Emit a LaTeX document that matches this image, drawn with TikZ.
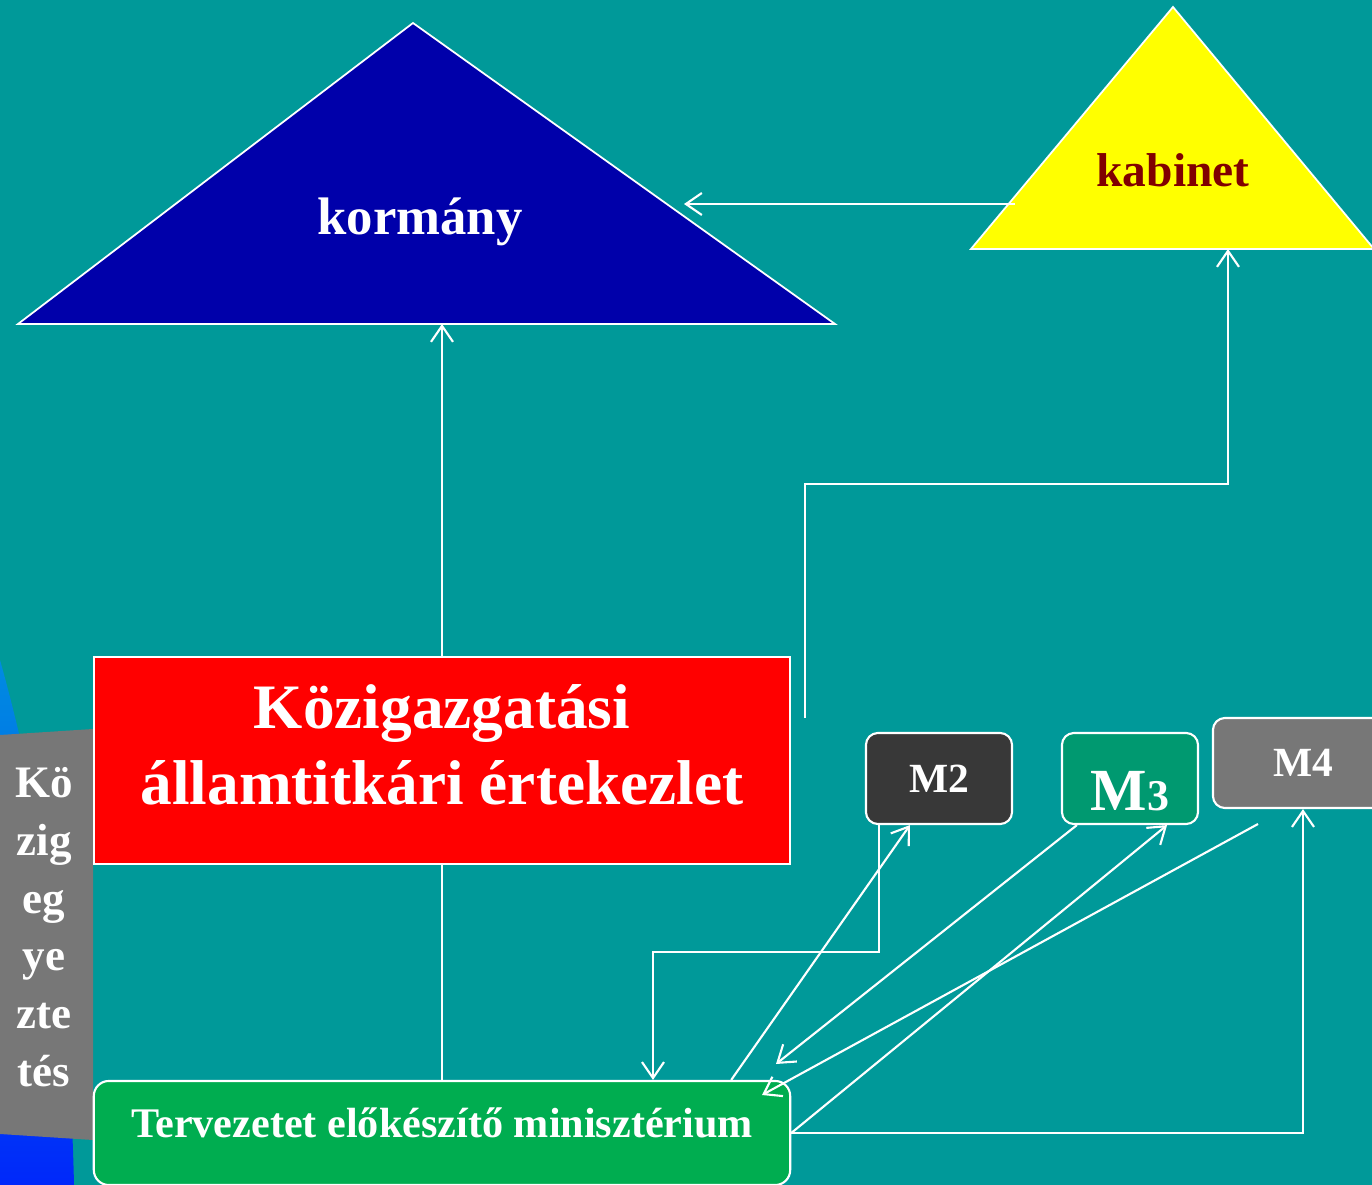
\documentclass[tikz,border=0pt]{standalone}
\usepackage{fontspec}
\setmainfont{Liberation Serif}
\usetikzlibrary{arrows.meta}
\definecolor{hatter}{RGB}{0,153,153}
\definecolor{kormkek}{RGB}{0,0,170}
\definecolor{kabsarga}{RGB}{255,255,0}
\definecolor{bordo}{RGB}{128,0,0}
\definecolor{piros}{RGB}{255,0,0}
\definecolor{zold}{RGB}{0,173,80}
\definecolor{mketto}{RGB}{56,56,56}
\definecolor{mharom}{RGB}{0,153,112}
\definecolor{szurke}{RGB}{119,119,119}
\definecolor{vilagoskek}{RGB}{0,140,225}
\definecolor{sotetkek}{RGB}{0,40,250}
\begin{document}
\begin{tikzpicture}[x=0.01cm, y=-0.01cm,
    nyil/.style={draw=white, line width=0.6pt, -{Straight Barb[length=0.16cm,width=0.22cm]}},
    vonal/.style={draw=white, line width=0.6pt},
    doboz/.style={draw=white, line width=0.6pt, inner sep=0pt, text=white},
    mdoboz/.style={doboz, rounded corners=0.12cm, minimum height=0.91cm, font=\fontsize{11.8}{14}\selectfont\bfseries}]

    % Hatter
    \useasboundingbox (0,0) rectangle (1372,1185);
    \clip (0,0) rectangle (1372,1185);
    \fill[hatter] (0,0) rectangle (1372,1185);
    \shade[top color=vilagoskek, bottom color=sotetkek] (0,660) .. controls (45,820) and (70,1000) .. (74,1185) -- (0,1185) -- cycle;
    \fill[szurke] (0,735) -- (93,729) -- (93,1140) -- (0,1134) -- cycle;
    \node[text=white, font=\fontsize{12.8}{16.4}\selectfont\bfseries, align=center] (kozig) at (44,927) {Kö\\zig\\eg\\ye\\zte\\tés};

    % Kormany
    \coordinate (kA) at (18,324);
    \coordinate (kB) at (835,324);
    \coordinate (kC) at (413,23);
    \filldraw[fill=kormkek, draw=white, line width=0.5pt] (kA) -- (kB) -- (kC) -- cycle;
    \node[text=white, font=\fontsize{15}{18}\selectfont\bfseries] (korm) at (420,222) {kormány};

    % Kabinet
    \coordinate (kabA) at (971,249);
    \coordinate (kabB) at (1374,249);
    \coordinate (kabC) at (1173,7);
    \filldraw[fill=kabsarga, draw=white, line width=0.5pt] (kabA) -- (kabB) -- (kabC) -- cycle;
    \node[text=bordo, font=\fontsize{13.5}{16}\selectfont\bfseries] (kab) at (1173,170) {kabinet};

    % Ertekezlet
    \node[doboz, fill=piros, minimum width=6.96cm, minimum height=2.07cm] (kiek) at (442,760.5) {};
    \node[text=white, font=\fontsize{18}{21.6}\selectfont\bfseries, align=center] (kiektxt) at (442,745) {Közigazgatási\\államtitkári értekezlet};

    % Miniszterium
    \node[doboz, fill=zold, rounded corners=0.15cm, minimum width=6.96cm, minimum height=1.04cm] (terv) at (442,1133) {};
    \node[text=white, font=\fontsize{12}{14}\selectfont\bfseries] (tervtxt) at (442,1123) {Tervezetet előkészítő minisztérium};

    % M dobozok
    \node[mdoboz, fill=mketto, minimum width=1.46cm] (m2) at (939,778.5) {M2};
    \node[mdoboz, fill=mharom, minimum width=1.36cm, text height=0.63cm, text depth=0cm] (m3) at (1130,778.5) {\fontsize{17}{20}\selectfont M\fontsize{12.5}{15}\selectfont 3};
    \node[mdoboz, fill=szurke, minimum width=1.8cm, minimum height=0.9cm] (m4) at (1303,763) {M4};

    % Nyilak
    \coordinate (kabbal) at (1015,204);
    \coordinate (kormjobb) at (684,204);
    \coordinate (kiekjobb) at (805,718);
    \coordinate (tores) at (805,484);
    \coordinate (kablent) at (1228,249);
    \coordinate (tores2) at (653,952);
    \coordinate (vegA) at (776,1064);
    \coordinate (vegB) at (762,1095);
    \coordinate (m4alatt) at (1258,824);

    \draw[nyil] (kiek.north) -- (kiek.north |- kA);
    \draw[vonal] (kiek.south) -- (terv.north);
    \draw[nyil] (kabbal) -- (kormjobb);
    \draw[nyil] (kiekjobb) -- (tores) -| (kablent);
    \draw[nyil] ([xshift=0.14cm]m2.south west) |- (tores2) -- (tores2 |- terv.north);
    \draw[nyil] ([xshift=-0.6cm]terv.north east) -- ([xshift=-0.29cm]m2.south);
    \draw[nyil] ([xshift=0.16cm]m3.south west) -- (vegA);
    \draw[nyil] (m4alatt) -- (vegB);
    \draw[nyil] (terv.east) -- ([xshift=-0.32cm]m3.south east);
    \draw[nyil] (terv.east) -| (m4.south);

\end{tikzpicture}
\end{document}
